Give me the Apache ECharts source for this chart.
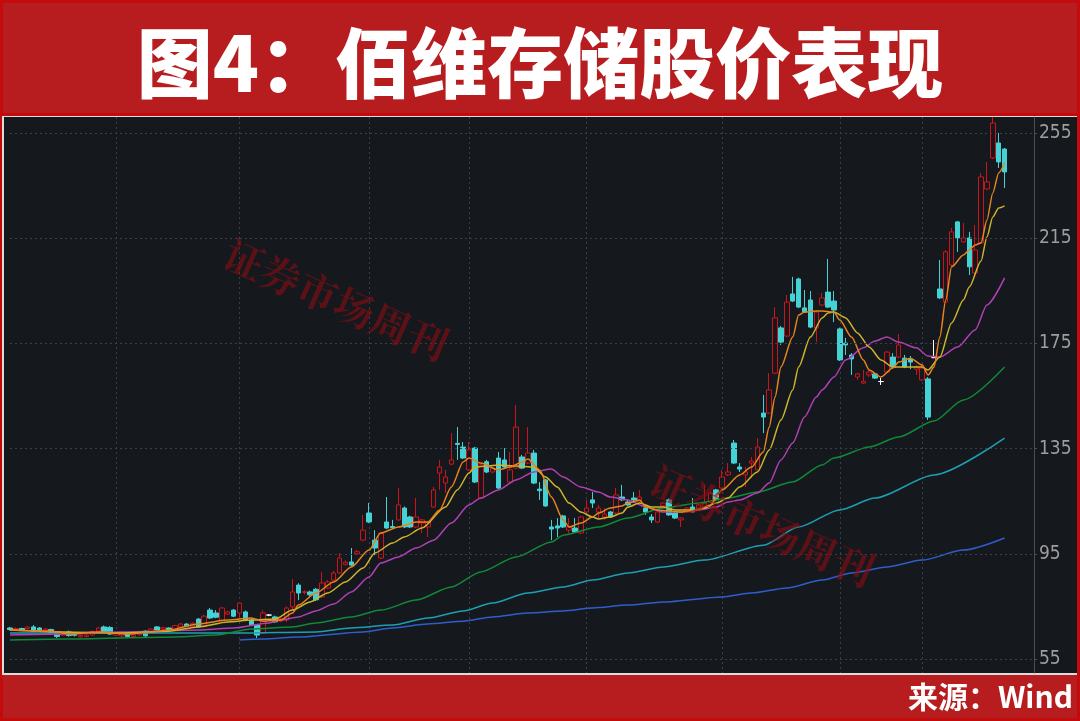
<!DOCTYPE html>
<html><head><meta charset="utf-8">
<script src="https://cdn.jsdelivr.net/npm/echarts@6/dist/echarts.min.js"></script>
<style>html,body{margin:0;padding:0;background:#c30b0b;}#c{width:1080px;height:721px;}</style>
</head><body><div id="c"></div>
<script>
const titleText = '图4：佰维存储股价表现';
const sourceText = '来源：Wind';
const watermarkText = '证券市场周刊';
const months = ['2025-07','2025-08','2025-09','2025-10','2025-11','2025-12','2026-01','2026-02','2026-03'];
const monthDays = [18,21,22,17,20,23,20,14,15];
const padDays = 5;
const yTicks = [55,95,135,175,215,255];
// [open, close, low, high]
const candles = [
[66.8,66.2,65.8,67.2],[66.2,66.6,65.9,67.0],[66.6,66.0,65.7,66.9],[66.6,67.2,66.3,67.6],[67.2,65.6,65.3,67.9],
[66.8,66.0,65.6,67.1],[65.9,66.4,65.5,66.8],[66.2,65.0,64.7,66.5],[65.3,63.6,63.0,65.6],[64.1,64.9,63.8,65.3],
[65.3,63.9,63.5,65.8],[64.5,64.0,63.6,64.9],[63.4,64.0,63.1,64.3],[63.6,64.1,63.2,64.5],[64.1,65.5,63.9,65.8],
[65.6,66.8,65.3,67.2],[67.2,65.3,65.0,67.7],[67.0,64.5,64.1,67.5],[64.1,64.9,63.7,65.2],[63.8,64.5,63.4,64.9],
[64.6,63.6,63.2,64.9],[63.6,64.2,63.3,64.6],[64.2,65.0,63.9,65.4],[65.6,63.8,63.4,65.9],[65.0,66.4,64.8,66.7],
[67.2,66.0,65.8,67.5],[66.4,66.9,66.1,67.2],[66.8,66.0,65.7,67.0],[66.0,67.7,65.8,68.0],[67.2,68.3,67.0,68.7],
[68.3,67.6,67.3,68.6],[67.2,68.6,67.0,69.0],[70.2,67.2,66.9,70.5],[67.5,71.3,67.2,71.8],[73.6,70.6,70.2,74.4],
[72.5,70.9,70.5,73.6],[69.8,74.4,69.4,74.6],[72.1,72.9,71.8,73.4],[73.6,71.3,70.9,74.0],[72.5,76.3,70.6,76.4],
[72.9,69.8,69.4,73.4],[69.8,68.0,67.6,70.4],[67.9,64.1,62.9,68.3],[64.9,72.5,64.5,73.6],[71.7,71.7,71.3,72.1],
[71.0,69.1,68.7,71.5],[69.4,70.5,69.0,71.0],[69.8,74.4,69.0,75.0],[74.8,80.5,73.6,85.4],[83.1,80.1,77.4,83.8],
[80.3,80.6,79.6,81.2],[80.5,79.4,79.0,81.0],[81.5,77.5,77.0,82.0],[78.6,83.9,78.2,88.1],[82.0,84.3,81.6,85.0],
[85.0,87.7,84.6,88.5],[87.7,93.4,87.3,95.3],[91.0,91.8,90.5,92.5],[91.9,90.7,90.3,97.2],[95.0,95.8,94.5,96.5],
[100.2,104.0,99.8,109.8],[110.5,107.1,106.7,114.3],[100.2,97.2,94.5,104.0],[93.4,102.9,93.0,103.3],[107.1,104.8,104.4,116.6],
[105.4,105.0,104.5,107.9],[107.9,113.6,107.5,120.0],[112.4,105.2,104.8,113.0],[109.0,105.2,104.8,109.5],[105.2,109.0,104.8,116.2],
[106.7,107.9,102.9,108.3],[105.2,107.1,101.4,107.5],[112.8,119.3,112.4,120.4],[125.7,128.0,119.3,130.7],[121.9,124.2,118.1,126.9],
[129.1,130.7,128.7,140.9],[137.0,136.6,130.7,143.2],[135.6,131.4,131.0,137.5],[126.9,134.5,126.5,137.5],[135.2,122.3,121.9,135.6],
[116.2,128.8,115.8,129.2],[130.0,126.1,125.7,130.7],[126.1,127.6,125.7,128.0],[131.4,120.0,119.6,133.7],[130.7,128.0,127.6,135.2],
[122.3,126.9,121.9,133.7],[127.6,143.2,127.2,151.6],[131.8,127.6,127.2,132.6],[129.5,133.3,129.1,143.2],[133.3,121.9,121.5,134.5],
[119.6,119.0,115.5,122.3],[123.1,113.2,112.8,123.5],[105.2,104.4,100.2,107.9],[105.6,104.8,101.4,108.6],[109.4,105.2,104.8,109.8],
[104.0,105.2,102.9,108.6],[104.8,103.3,102.9,108.6],[102.9,109.0,102.5,109.4],[110.9,112.4,110.5,115.5],[115.5,114.3,112.4,118.5],
[110.9,112.4,108.6,113.6],[109.0,110.1,107.9,112.4],[110.9,109.0,108.6,111.3],[110.5,117.4,110.1,120.0],[116.6,115.5,115.1,121.2],
[114.7,113.6,113.2,115.5],[116.2,115.5,115.1,118.5],[114.7,116.6,114.3,119.3],[112.4,110.9,109.8,113.6],[109.0,107.9,106.7,110.1],
[107.1,110.9,106.7,111.3],[113.2,114.3,112.8,114.7],[115.5,109.8,109.4,116.0],[110.5,108.6,108.2,111.0],[107.9,108.6,105.2,109.0],
[110.9,112.4,110.5,112.8],[112.8,110.9,110.5,116.2],[111.7,113.6,111.3,114.0],[112.4,114.3,112.0,121.2],[114.7,118.1,114.3,118.5],
[119.3,115.5,115.1,119.7],[120.0,124.2,119.6,126.9],[125.0,126.1,124.6,129.5],[137.1,129.5,129.1,138.3],[128.0,127.2,126.1,129.5],
[125.0,126.1,120.4,128.0],[129.5,130.3,123.8,131.8],[126.9,135.6,126.5,139.0],[148.5,147.0,140.9,155.4],[148.5,157.3,148.1,163.7],
[163.7,184.7,163.3,188.8],[180.9,175.5,174.4,181.6],[177.8,190.7,177.4,193.4],[193.8,191.1,190.7,200.3],[199.5,188.8,188.4,200.0],
[188.5,186.9,186.5,195.3],[191.5,181.2,180.8,194.9],[180.9,186.9,175.5,187.3],[189.6,192.3,189.2,194.2],[194.5,188.8,188.4,207.1],
[191.1,187.7,183.1,194.9],[180.5,168.7,168.3,181.0],[175.1,174.4,170.6,177.1],[170.6,169.1,163.0,171.3],[162.2,163.4,161.1,163.7],
[159.9,160.6,159.5,164.9],[163.0,164.1,162.2,165.6],[163.4,161.8,161.5,163.8],[160.5,160.5,159.2,161.8],[164.1,171.7,163.7,172.1],
[169.8,166.0,165.6,171.3],[169.8,174.4,169.4,178.6],[169.4,166.0,165.6,170.6],[169.1,167.9,165.2,170.2],[165.2,166.0,163.0,166.8],
[161.1,165.6,160.7,166.8],[161.5,147.0,145.9,162.2],[169.6,169.6,169.4,176.3],[195.7,192.3,191.9,206.7],[190.7,209.8,190.3,210.5],
[204.8,217.4,204.4,218.9],[221.2,215.1,209.8,221.6],[213.6,215.1,213.2,220.8],[215.1,204.1,201.0,217.4],[201.8,210.5,201.4,220.0],
[213.2,238.3,212.8,239.8],[233.7,236.4,233.3,244.0],[245.5,258.8,245.1,261.0],[251.2,244.0,241.7,255.0],[248.9,240.2,234.1,249.3]
];
// moving averages: [day index, value]
const ma5 = [[0,66.0],[7,65.6],[10,64.5],[15,65.3],[20,64.5],[24,65.3],[27,66.0],[32,68.3],[37,69.8],[41,70.6],[43,69.4],[46,69.8],[48,72.5],[49,75.5],[52,80.1],[55,84.3],[58,90.0],[61,96.4],[63,102.9],[66,105.2],[69,107.1],[71,107.1],[73,111.7],[75,120.4],[77,129.9],[78,131.4],[80,129.5],[83,126.9],[85,128.0],[87,129.9],[88,131.0],[90,126.9],[92,116.6],[94,107.9],[95,105.2],[97,106.7],[99,109.0],[100,110.5],[102,112.4],[104,113.2],[105,114.3],[107,115.5],[108,112.8],[110,111.7],[112,111.3],[114,110.9],[117,111.7],[119,113.6],[121,119.3],[124,125.0],[126,128.0],[128,133.7],[129,143.2],[130,154.6],[131,166.0],[133,177.4],[134,185.8],[135,186.9],[137,187.3],[138,187.3],[140,186.9],[141,183.9],[143,177.4],[145,168.7],[146,164.9],[148,162.2],[150,165.6],[151,167.9],[153,169.4],[155,166.8],[156,163.0],[157,166.0],[158,177.4],[159,191.5],[160,204.1],[162,208.6],[163,210.5],[164,212.4],[165,213.2],[166,221.9],[167,232.2],[168,239.8],[169,243.6]];
const ma10 = [[0,66.0],[9,65.3],[19,64.9],[27,65.6],[32,67.2],[37,69.1],[41,69.8],[45,70.2],[48,73.6],[51,76.7],[54,80.1],[57,84.3],[60,89.6],[62,95.3],[65,99.1],[67,101.4],[70,104.8],[74,112.8],[76,119.3],[78,125.7],[79,128.0],[81,128.4],[83,128.8],[86,128.4],[89,128.0],[91,124.2],[93,120.4],[95,114.3],[97,110.9],[99,109.0],[100,108.2],[102,109.0],[104,110.5],[105,112.8],[107,114.3],[109,112.8],[111,112.8],[113,111.7],[116,111.7],[118,112.4],[120,114.3],[122,116.2],[124,120.4],[127,126.1],[129,134.5],[131,145.9],[133,157.3],[134,166.0],[136,177.4],[138,184.7],[139,186.6],[140,186.9],[142,184.7],[144,179.0],[146,173.6],[148,168.7],[150,166.0],[152,166.0],[155,166.0],[156,164.9],[158,169.8],[160,182.8],[162,191.5],[163,196.4],[165,206.3],[166,215.5],[167,223.1],[168,226.5],[169,227.3]];
const ma20 = [[0,64.1],[9,64.5],[19,65.3],[32,66.0],[38,66.8],[44,68.7],[46,69.8],[49,71.0],[52,73.3],[55,75.9],[58,80.5],[61,86.2],[63,91.5],[66,93.8],[69,97.2],[72,100.2],[75,106.7],[78,113.6],[80,116.2],[83,119.3],[86,123.1],[89,126.1],[92,127.2],[94,124.2],[97,120.4],[100,118.5],[102,116.6],[105,115.5],[108,112.8],[111,110.9],[114,110.9],[117,111.7],[120,112.8],[122,114.7],[124,115.5],[127,118.1],[129,121.9],[131,130.7],[133,137.1],[135,147.0],[137,154.6],[138,157.3],[140,162.2],[142,168.7],[145,173.3],[147,175.9],[149,177.4],[151,175.5],[154,173.3],[156,170.2],[158,169.8],[161,173.6],[164,180.1],[166,189.6],[169,199.9]];
const ma60 = [[0,62.2],[9,62.6],[28,63.4],[35,64.1],[41,66.4],[48,67.2],[52,68.7],[58,71.0],[63,73.6],[69,77.4],[75,82.4],[80,88.1],[86,93.8],[92,99.5],[94,102.1],[100,105.2],[105,108.6],[111,112.4],[117,114.3],[122,116.2],[127,118.5],[133,122.3],[138,128.8],[140,131.4],[146,135.6],[151,139.4],[157,145.5],[162,153.5],[169,166.0]];
const ma120 = [[0,64.9],[39,64.9],[52,65.3],[58,66.8],[65,67.9],[71,70.6],[77,73.3],[82,76.3],[88,80.1],[94,82.4],[99,85.0],[105,87.7],[111,90.0],[118,92.6],[128,98.3],[134,105.2],[141,111.7],[147,116.2],[157,125.0],[169,139.0]];
const ma250 = [[39,62.2],[43,62.6],[49,63.4],[60,65.3],[65,66.8],[71,68.3],[77,69.4],[82,71.0],[88,72.5],[94,73.3],[99,74.4],[105,75.5],[111,76.7],[121,78.6],[126,80.1],[132,82.0],[138,85.0],[143,87.7],[149,90.0],[155,92.6],[162,96.4],[169,101.0]];

const categories = [];
const monthStarts = new Set();
months.forEach((m, k) => {
  if (k > 0) monthStarts.add(categories.length);
  for (let d = 1; d <= monthDays[k]; d++) categories.push(m + '#' + d);
});
for (let p = 1; p <= padDays; p++) categories.push('pad' + p);

const maDefs = [
  {name: 'MA250', data: ma250, color: '#2f5ecb'},
  {name: 'MA120', data: ma120, color: '#1d9fb3'},
  {name: 'MA60', data: ma60, color: '#0e8a38'},
  {name: 'MA20', data: ma20, color: '#b040b4'},
  {name: 'MA10', data: ma10, color: '#cdb42c'},
  {name: 'MA5', data: ma5, color: '#e8841d'}
];

const chart = echarts.init(document.getElementById('c'));
const gridLine = {color: '#3b4048', type: [2, 3], width: 1};
chart.setOption({
  animation: false,
  backgroundColor: '#c30b0b',
  grid: {left: 10, right: 46, top: 117, bottom: 48, containLabel: false},
  xAxis: {
    type: 'category', data: categories, boundaryGap: false,
    axisLine: {show: false}, axisTick: {show: false}, axisLabel: {show: false},
    splitLine: {show: true, interval: (idx) => monthStarts.has(idx), lineStyle: gridLine}
  },
  yAxis: {
    type: 'value', position: 'right', min: 49.68, max: 261.08,
    axisLine: {show: true, lineStyle: {color: '#4a4f57'}},
    axisTick: {show: true, customValues: yTicks, length: 3, lineStyle: {color: '#4a4f57'}},
    axisLabel: {customValues: yTicks, color: '#9e9e9e', fontSize: 19, margin: 5,
      fontFamily: '"Liberation Sans Narrow","DejaVu Sans Condensed","Roboto",sans-serif'},
    splitLine: {show: false}
  },
  graphic: [
    {type: 'rect', z: -9, shape: {x: 3, y: 3, width: 1074, height: 110}, style: {fill: '#b71c1f'}},
    {type: 'rect', z: -9, shape: {x: 2, y: 116, width: 1075, height: 559}, style: {fill: '#dcdcdc'}},
    {type: 'rect', z: -8, shape: {x: 4, y: 117, width: 1073, height: 556}, style: {fill: '#15181d'}},
    {type: 'rect', z: -9, shape: {x: 3, y: 675, width: 1074, height: 43}, style: {fill: '#b71c1f'}},
    {type: 'text', z: 20, x: 540, y: 63, style: {text: titleText, fill: '#ffffff', align: 'center', verticalAlign: 'middle',
      font: '900 76px "Noto Sans CJK SC", sans-serif'}},
    {type: 'text', z: 20, x: 1073, y: 697, style: {text: sourceText, fill: '#ffffff', align: 'right', verticalAlign: 'middle',
      font: 'bold 30px "Noto Sans CJK SC", sans-serif'}},
    {type: 'text', z: 15, x: 336, y: 300, rotation: -0.41, style: {text: watermarkText, fill: 'rgba(140,14,20,0.6)', align: 'center', verticalAlign: 'middle',
      font: 'bold 40px "Noto Serif CJK SC","Noto Sans CJK SC", serif'}},
    {type: 'text', z: 15, x: 762, y: 526, rotation: -0.41, style: {text: watermarkText, fill: 'rgba(140,14,20,0.6)', align: 'center', verticalAlign: 'middle',
      font: 'bold 40px "Noto Serif CJK SC","Noto Sans CJK SC", serif'}}
  ],
  series: [
    {
      type: 'candlestick', data: candles, barWidth: 5, clip: false, z: 3,
      itemStyle: {color: '#15181d', borderColor: '#cc141b', color0: '#44d2d4', borderColor0: '#44d2d4', borderColorDoji: '#ffffff', borderWidth: 1},
      markLine: {silent: true, symbol: 'none', label: {show: false}, lineStyle: gridLine,
        data: yTicks.map(v => ({yAxis: v}))}
    },
    ...maDefs.map(d => ({
      type: 'line', name: d.name, data: d.data, showSymbol: false, smooth: 0.25, smoothMonotone: 'x', z: 4,
      lineStyle: {color: d.color, width: 1.5}, itemStyle: {color: d.color}
    }))
  ]
});
</script></body></html>
